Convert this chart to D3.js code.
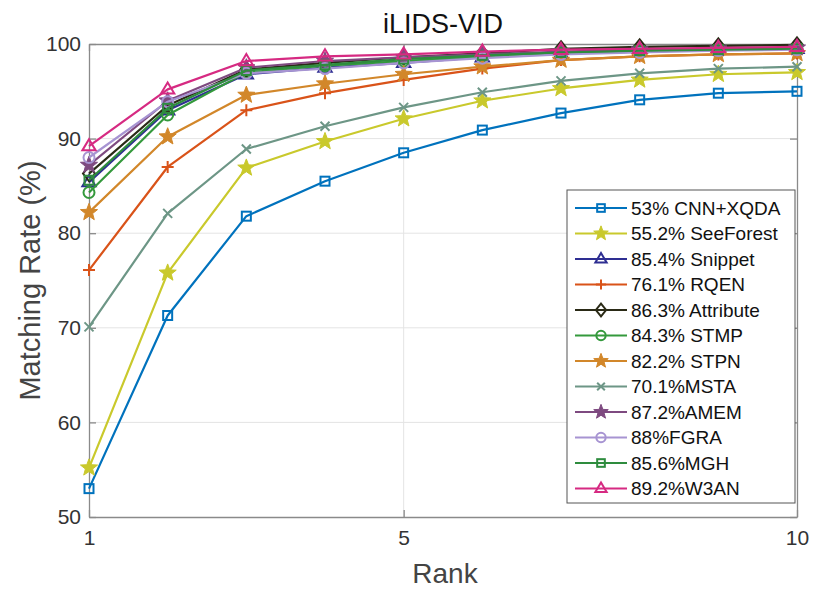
<!DOCTYPE html>
<html>
<head>
<meta charset="utf-8">
<script src="https://cdn.jsdelivr.net/npm/d3@7"></script>
<style>
  html, body { margin: 0; padding: 0; background: #fff; }
  svg { display: block; font-family: "Liberation Sans", Arial, sans-serif; }
</style>
</head>
<body>
<svg id="chart" width="815" height="591"></svg>
<script>
// CMC curves on iLIDS-VID, ranks 1-10
const ranks = [1, 2, 3, 4, 5, 6, 7, 8, 9, 10];
const seriesNames = [
  "53% CNN+XQDA", "55.2% SeeForest", "85.4% Snippet", "76.1% RQEN",
  "86.3% Attribute", "84.3% STMP", "82.2% STPN", "70.1%MSTA",
  "87.2%AMEM", "88%FGRA", "85.6%MGH", "89.2%W3AN"
];
const cnnXqda   = [53.0, 71.3, 81.8, 85.5, 88.5, 90.9, 92.7, 94.1, 94.8, 95.0];
const seeForest = [55.2, 75.8, 86.9, 89.7, 92.1, 94.0, 95.3, 96.2, 96.8, 97.0];
const snippet   = [85.4, 93.0, 96.8, 97.5, 98.0, 98.6, 99.0, 99.2, 99.4, 99.5];
const rqen      = [76.1, 87.0, 93.0, 94.8, 96.2, 97.4, 98.3, 98.7, 98.9, 99.0];
const attribute = [86.3, 93.5, 97.3, 98.0, 98.6, 99.0, 99.5, 99.7, 99.8, 99.9];
const stmp      = [84.3, 92.5, 97.0, 97.7, 98.2, 98.7, 99.0, 99.2, 99.4, 99.5];
const stpn      = [82.2, 90.2, 94.6, 95.8, 96.8, 97.6, 98.3, 98.7, 98.9, 99.0];
const msta      = [70.1, 82.1, 88.9, 91.3, 93.3, 94.9, 96.1, 96.9, 97.4, 97.6];
const amem      = [87.2, 94.0, 97.5, 98.2, 98.6, 98.9, 99.2, 99.4, 99.5, 99.6];
const fgra      = [88.0, 93.9, 96.9, 97.4, 98.0, 98.5, 98.9, 99.1, 99.3, 99.4];
const mgh       = [85.6, 93.2, 97.2, 97.8, 98.4, 98.8, 99.1, 99.3, 99.4, 99.5];
const w3an      = [89.2, 95.2, 98.2, 98.7, 98.9, 99.2, 99.4, 99.5, 99.6, 99.7];
const xTicks = [1, 5, 10];
const yTicks = [50, 60, 70, 80, 90, 100];

const seriesValues = [cnnXqda, seeForest, snippet, rqen, attribute, stmp, stpn, msta, amem, fgra, mgh, w3an];
const colors  = ["#0072BD", "#C9C92C", "#2E2E92", "#D95319", "#2A2A16", "#34993C",
                 "#D2872A", "#6D9686", "#7E4A80", "#A794D2", "#2E8C3E", "#D62A82"];
const markers = ["square", "starFill", "triangle", "plus", "diamond", "circle",
                 "starFill", "cross", "starFill", "circle", "square", "triangle"];

const svg = d3.select("#chart");
const plotLeft = 89, plotRight = 797, plotTop = 44, plotBottom = 517;
const x = d3.scaleLinear().domain([1, 10]).range([plotLeft, plotRight]);
const y = d3.scaleLinear().domain([50, 100]).range([plotBottom, plotTop]);

// grid
const grid = svg.append("g").attr("stroke", "#e4e4e4").attr("stroke-width", 1);
yTicks.slice(1, -1).forEach(t => grid.append("line")
  .attr("x1", plotLeft).attr("x2", plotRight).attr("y1", y(t)).attr("y2", y(t)));
xTicks.slice(1, -1).forEach(t => grid.append("line")
  .attr("x1", x(t)).attr("x2", x(t)).attr("y1", plotTop).attr("y2", plotBottom));

// axes (ticks point inward, box closed on top and right)
const axisColor = "#8a8a8a", textColor = "#333333";
function styleAxis(g) {
  g.select(".domain").attr("stroke", axisColor).attr("stroke-width", 1.3);
  g.selectAll(".tick line").attr("stroke", axisColor).attr("stroke-width", 1.3);
  g.selectAll(".tick text").attr("fill", textColor)
    .style("font-size", "21px").style("font-family", "Liberation Sans, Arial, sans-serif");
}
svg.append("g").attr("transform", `translate(0,${plotBottom})`)
  .call(d3.axisBottom(x).tickValues(xTicks).tickSizeInner(-7).tickSizeOuter(0).tickPadding(13))
  .call(styleAxis);
svg.append("g").attr("transform", `translate(${plotLeft},0)`)
  .call(d3.axisLeft(y).tickValues(yTicks).tickSizeInner(-7).tickSizeOuter(0).tickPadding(8))
  .call(styleAxis);
svg.append("g").attr("transform", `translate(0,${plotTop})`)
  .call(d3.axisTop(x).tickValues(xTicks).tickSizeInner(-7).tickSizeOuter(0).tickFormat(""))
  .call(styleAxis);
svg.append("g").attr("transform", `translate(${plotRight},0)`)
  .call(d3.axisRight(y).tickValues(yTicks).tickSizeInner(-7).tickSizeOuter(0).tickFormat(""))
  .call(styleAxis);

// marker drawing
function drawMarker(g, type, cx, cy, color, scale) {
  const s = scale || 1;
  const sw = 2;
  if (type === "square") {
    const h = 4.5 * s;
    g.append("rect").attr("x", cx - h).attr("y", cy - h).attr("width", 2 * h).attr("height", 2 * h)
      .attr("fill", "none").attr("stroke", color).attr("stroke-width", sw);
  } else if (type === "circle") {
    g.append("circle").attr("cx", cx).attr("cy", cy).attr("r", 5.5 * s)
      .attr("fill", "none").attr("stroke", color).attr("stroke-width", sw);
  } else if (type === "triangle") {
    const r = 7 * s;
    const pts = [[cx, cy - r], [cx + r * 0.95, cy + r * 0.6], [cx - r * 0.95, cy + r * 0.6]];
    g.append("polygon").attr("points", pts.map(p => p.join(",")).join(" "))
      .attr("fill", "none").attr("stroke", color).attr("stroke-width", sw);
  } else if (type === "diamond") {
    const r = 7.5 * s;
    const pts = [[cx, cy - r], [cx + r * 0.8, cy], [cx, cy + r], [cx - r * 0.8, cy]];
    g.append("polygon").attr("points", pts.map(p => p.join(",")).join(" "))
      .attr("fill", "none").attr("stroke", color).attr("stroke-width", sw);
  } else if (type === "plus") {
    const r = 6 * s;
    g.append("path").attr("d", `M${cx - r},${cy}H${cx + r}M${cx},${cy - r}V${cy + r}`)
      .attr("stroke", color).attr("stroke-width", sw);
  } else if (type === "cross") {
    const r = 4.5 * s;
    g.append("path").attr("d", `M${cx - r},${cy - r}L${cx + r},${cy + r}M${cx - r},${cy + r}L${cx + r},${cy - r}`)
      .attr("stroke", color).attr("stroke-width", sw);
  } else if (type === "starFill") {
    const R = 9 * s, r = 3.8 * s;
    const pts = d3.range(10).map(i => {
      const a = -Math.PI / 2 + i * Math.PI / 5;
      const rr = i % 2 === 0 ? R : r;
      return [cx + rr * Math.cos(a), cy + rr * Math.sin(a)];
    });
    g.append("polygon").attr("points", pts.map(p => p.join(",")).join(" "))
      .attr("fill", color).attr("stroke", color).attr("stroke-width", 1).attr("stroke-linejoin", "miter");
  }
}

// curves
const line = d3.line().x((d, i) => x(ranks[i])).y(d => y(d));
const plot = svg.append("g");
seriesValues.forEach((vals, k) => {
  const g = plot.append("g");
  g.append("path").attr("d", line(vals)).attr("fill", "none")
    .attr("stroke", colors[k]).attr("stroke-width", 2.2).attr("stroke-linejoin", "round");
  vals.forEach((v, i) => drawMarker(g, markers[k], x(ranks[i]), y(v), colors[k], 1));
});

// legend
const lg = svg.append("g");
const lx = 567, ly = 190, lw = 228, lh = 313;
lg.append("rect").attr("x", lx).attr("y", ly).attr("width", lw).attr("height", lh)
  .attr("fill", "#fff").attr("stroke", "#555").attr("stroke-width", 1);
seriesNames.forEach((name, k) => {
  const cy = 208 + k * 25.5;
  lg.append("line").attr("x1", 575).attr("x2", 627).attr("y1", cy).attr("y2", cy)
    .attr("stroke", colors[k]).attr("stroke-width", 2.2);
  drawMarker(lg, markers[k], 601, cy, colors[k], 0.85);
  lg.append("text").attr("x", 631).attr("y", cy).attr("dy", "0.36em")
    .attr("fill", "#111").style("font-size", "19px").text(name);
});

// titles
svg.append("text").attr("x", 443).attr("y", 33).attr("text-anchor", "middle")
  .attr("fill", "#111").style("font-size", "27px").text("iLIDS-VID");
svg.append("text").attr("x", 445).attr("y", 583).attr("text-anchor", "middle")
  .attr("fill", "#444").style("font-size", "28px").text("Rank");
svg.append("text").attr("transform", `translate(40,${(plotTop + plotBottom) / 2}) rotate(-90)`)
  .attr("text-anchor", "middle").attr("fill", "#444").style("font-size", "29px")
  .text("Matching Rate (%)");
</script>
</body>
</html>
